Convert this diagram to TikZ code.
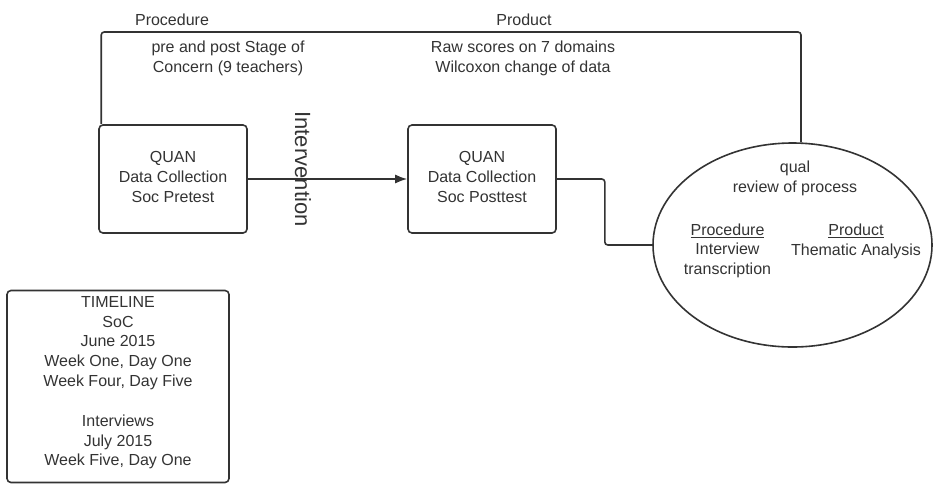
\documentclass[tikz,border=0pt]{standalone}
\usepackage{fontspec}
\setmainfont{Liberation Sans}
\usetikzlibrary{arrows.meta,shapes.geometric}
\definecolor{ink}{HTML}{333333}
\begin{document}
\begin{tikzpicture}[x=1pt,y=-1pt,
  txt/.style={text=ink,align=center,inner sep=0pt,font=\fontsize{16}{19.8}\selectfont},
  box/.style={draw=ink,line width=1.6pt,rounded corners=4pt},
  conn/.style={draw=ink,line width=1.6pt,rounded corners=3pt}]
\useasboundingbox (0,0) rectangle (933,483);
% boxes
\node[box,minimum width=148pt,minimum height=108pt] (b1) at (173,179) {};
\node[txt] (b1t) at (173,177) {QUAN\\Data Collection\\Soc Pretest};
\node[box,minimum width=148pt,minimum height=108pt] (b2) at (482,179) {};
\node[txt] (b2t) at (482,177) {QUAN\\Data Collection\\Soc Posttest};
\node[draw=ink,line width=1.6pt,ellipse,minimum width=279pt,minimum height=204pt,inner sep=0pt] (ell) at (792.5,245) {};
\node[box,minimum width=222pt,minimum height=192pt] (tl) at (118,386.5) {};
\node[txt] (tlt) at (118,382.7) {TIMELINE\\SoC\\June 2015\\Week One, Day One\\Week Four, Day Five\\[20pt]Interviews\\July 2015\\Week Five, Day One};
% top labels
\node[txt] (proc) at (172,20) {Procedure};
\node[txt] (prod) at (524,20) {Product};
\node[txt] (proct) at (228,58.3) {pre and post Stage of\\Concern (9 teachers)};
\node[txt] (prodt) at (523,58.3) {Raw scores on 7 domains\\Wilcoxon change of data};
% ellipse texts
\node[txt] (q) at (795,178.3) {qual\\review of process};
\node[txt] (ep) at (727.5,250.8) {\underline{Procedure}\\Interview\\transcription};
\node[txt] (epr) at (856,241) {\underline{Product}\\Thematic Analysis};
% intervention
\node[txt,rotate=-90,font=\fontsize{22}{26}\selectfont] (iv) at (303,169) {Intervention};
% connectors
\coordinate (tc) at (801,32);
\draw[conn] ([xshift=3pt]b1.north west) |- (tc) -- ([xshift=8.5pt]ell.north);
\draw[draw=ink,line width=1.6pt,-{Latex[length=12pt,width=9pt]}] (b1.east) -- (b2.west);
\draw[conn] (b2.east) -- ++(48,0) |- (ell.west);
\end{tikzpicture}
\end{document}
